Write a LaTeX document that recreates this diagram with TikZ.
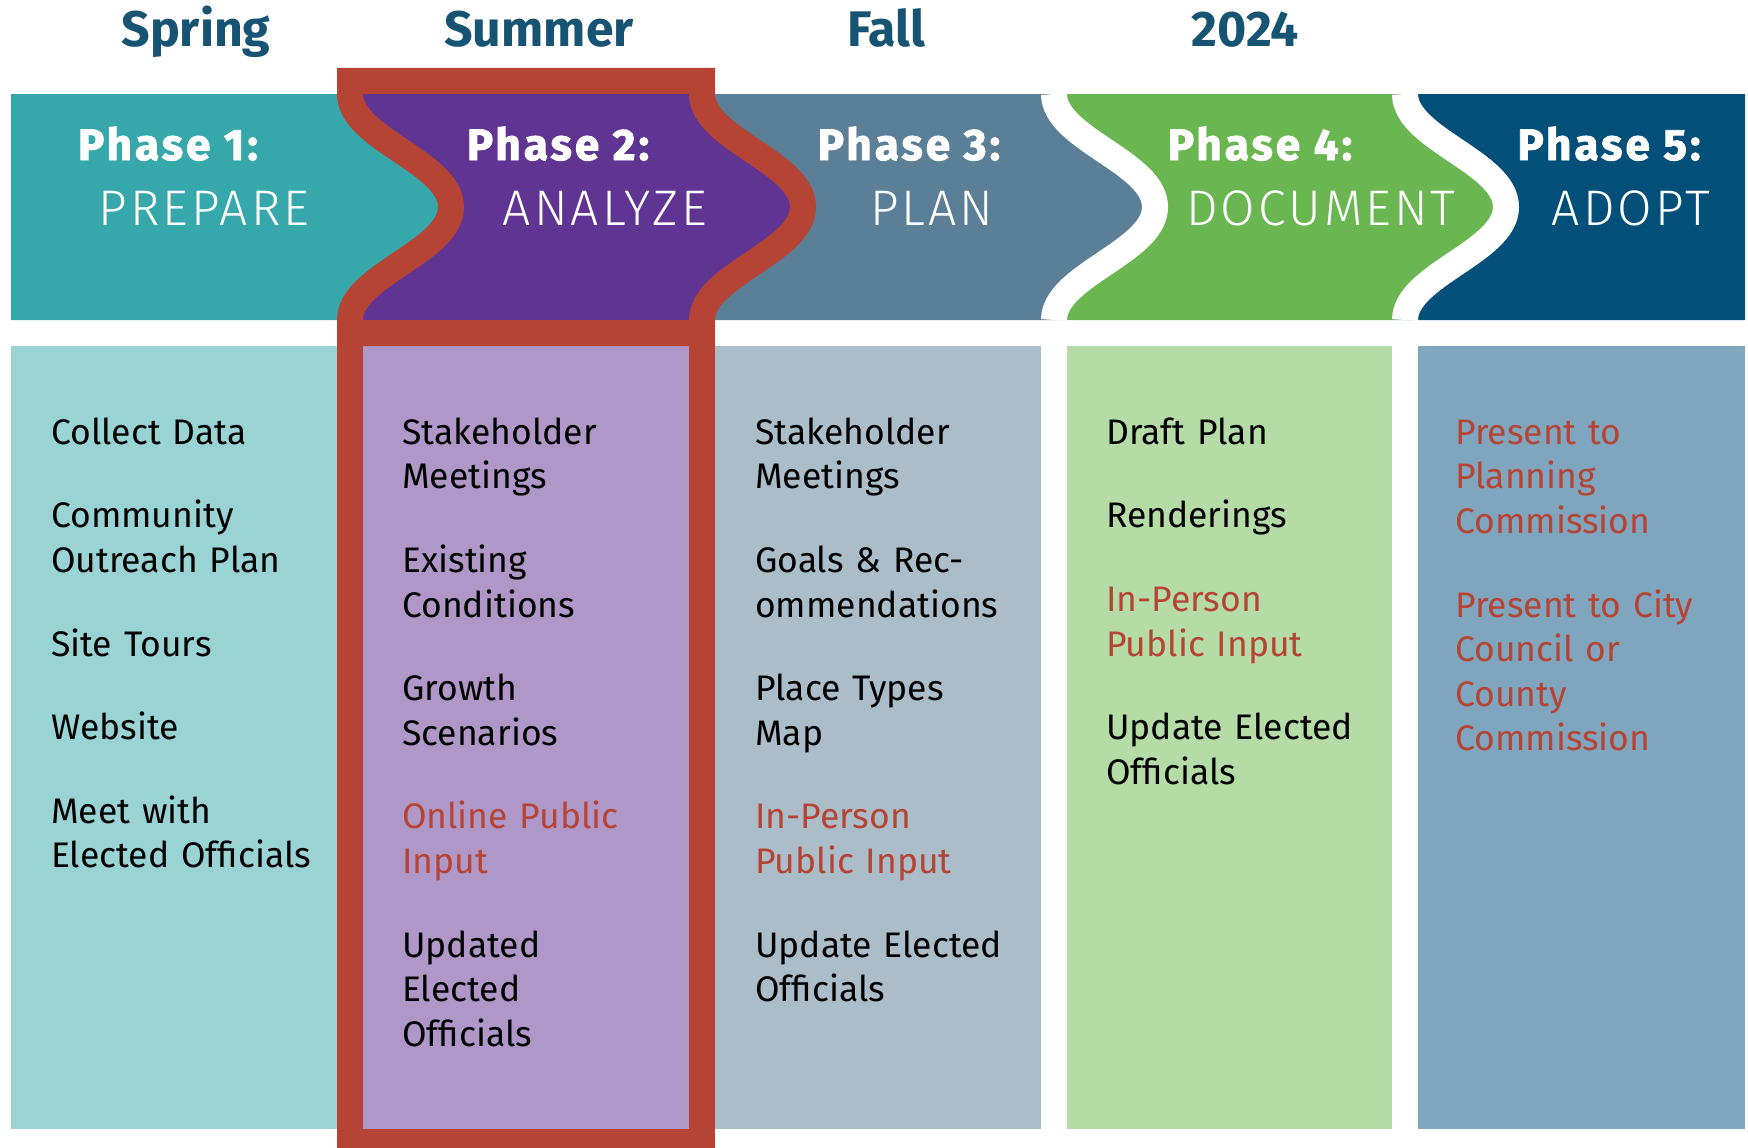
\documentclass[tikz,border=0pt]{standalone}
\usepackage{fontspec}
\setmainfont{Fira Sans}
\newfontfamily\lightf{Fira Sans Light}[LetterSpace=6]
\newfontfamily\heavyf{Fira Sans}[LetterSpace=7, BoldFeatures={FakeBold=2}]
\definecolor{hteal}{RGB}{54,168,171}
\definecolor{bteal}{RGB}{154,211,212}
\definecolor{hpurple}{RGB}{95,52,146}
\definecolor{bpurple}{RGB}{175,152,200}
\definecolor{hslate}{RGB}{92,127,152}
\definecolor{bslate}{RGB}{171,189,201}
\definecolor{hgreen}{RGB}{106,183,82}
\definecolor{bgreen}{RGB}{181,219,167}
\definecolor{hnavy}{RGB}{2,79,122}
\definecolor{bnavy}{RGB}{127,166,190}
\definecolor{tred}{RGB}{181,68,52}
\definecolor{tseason}{RGB}{23,84,115}
\begin{document}
\begin{tikzpicture}[x=1pt,y=-1pt,
  bdown/.style={insert path={.. controls (#1,139) and (#1+101,162) .. (#1+101,207) .. controls (#1+101,252) and (#1,275) .. (#1,320)}},
  bup/.style={insert path={.. controls (#1,275) and (#1+101,252) .. (#1+101,207) .. controls (#1+101,162) and (#1,139) .. (#1,94)}},
  season/.style={text=tseason, font={\bfseries\fontsize{50}{50}\selectfont}, anchor=base, inner sep=0pt},
  phase/.style={text=white, font={\heavyf\bfseries\fontsize{44}{44}\selectfont}, anchor=base, inner sep=0pt},
  sub/.style={text=white, font={\lightf\fontsize{50}{50}\selectfont}, anchor=base, inner sep=0pt},
  coltext/.style={text=black, font={\fontsize{35.5}{44.6}\selectfont}, anchor=north west, inner sep=0pt, text width=400pt, align=left},
  gapline/.style={white, line width=26pt},
  redline/.style={tred, line width=26pt, line join=miter}
]
\useasboundingbox (0,0) rectangle (1748,1148);
\fill[white] (0,0) rectangle (1748,1148);
% header cells
\fill[hteal] (11,94) -- (350,94) [bdown=350] -- (11,320) -- cycle;
\fill[hpurple] (350,94) -- (702,94) [bdown=702] -- (350,320) [bup=350] -- cycle;
\fill[hslate] (702,94) -- (1054,94) [bdown=1054] -- (702,320) [bup=702] -- cycle;
\fill[hgreen] (1054,94) -- (1405,94) [bdown=1405] -- (1054,320) [bup=1054] -- cycle;
\fill[hnavy] (1405,94) -- (1745,94) -- (1745,320) -- (1405,320) [bup=1405] -- cycle;
\draw[gapline] (1054,94) [bdown=1054];
\draw[gapline] (1405,94) [bdown=1405];
% body columns
\fill[bteal] (11,346) rectangle (337,1129);
\fill[bslate] (715,346) rectangle (1041,1129);
\fill[bgreen] (1067,346) rectangle (1392,1129);
\fill[bnavy] (1418,346) rectangle (1745,1129);
\fill[bpurple] (350,333) rectangle (702,1142);
% red highlight
\draw[redline] (350,81) -- (702,81) -- (702,94) [bdown=702] -- (702,333) -- (350,333) -- (350,320) [bup=350] -- cycle;
\draw[redline] (350,333) rectangle (702,1142);
% seasons
\node[season] (spring) at (196,47) {Spring};
\node[season] (summer) at (539,47) {Summer};
\node[season] (fall) at (886,47) {Fall};
\node[season] (year) at (1245,47) {2024};
% phase titles
\node[phase] (p1) at (168,160) {Phase 1:};
\node[phase] (p2) at (558,160) {Phase 2:};
\node[phase] (p3) at (909,160) {Phase 3:};
\node[phase] (p4) at (1260,160) {Phase 4:};
\node[phase] (p5) at (1609,160) {Phase 5:};
\node[sub] (s1) at (204,225) {PREPARE};
\node[sub] (s2) at (605,225) {ANALYZE};
\node[sub] (s3) at (932,225) {PLAN};
\node[sub] (s4) at (1321,225) {DOCUMENT};
\node[sub] (s5) at (1631,225) {ADOPT};
% column texts
\node[coltext] (t1) at (51,412.8) {\strut Collect Data\\[39pt]
Community\\Outreach Plan\\[39pt]
Site Tours\\[39pt]
Website\\[39pt]
Meet with\\Elected Officials};
\node[coltext] (t2) at (402,412.8) {\strut Stakeholder\\Meetings\\[39pt]
Existing\\Conditions\\[39pt]
Growth\\Scenarios\\[39pt]
{\color{tred}Online Public\\Input}\\[39pt]
Updated\\Elected\\Officials};
\node[coltext] (t3) at (755,412.8) {\strut Stakeholder\\Meetings\\[39pt]
Goals \& Rec-\\ommendations\\[39pt]
Place Types\\Map\\[39pt]
{\color{tred}In-Person\\Public Input}\\[39pt]
Update Elected\\Officials};
\node[coltext] (t4) at (1106,412.8) {\strut Draft Plan\\[39pt]
Renderings\\[39pt]
{\color{tred}In-Person\\Public Input}\\[39pt]
Update Elected\\Officials};
\node[coltext, text=tred] (t5) at (1455,412.8) {\strut Present to\\Planning\\Commission\\[39pt]
Present to City\\Council or\\County\\Commission};
\end{tikzpicture}
\end{document}
